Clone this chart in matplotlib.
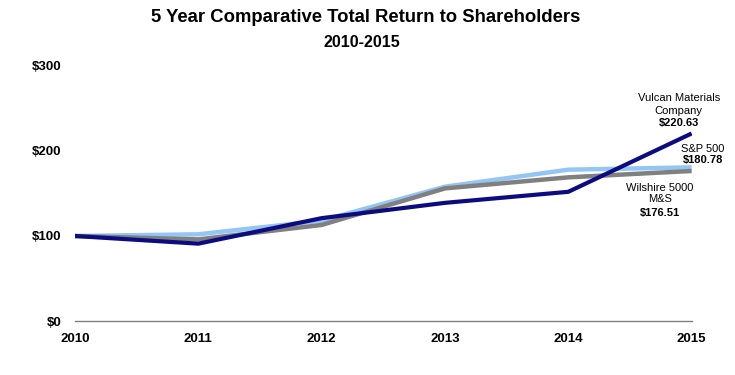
import matplotlib.pyplot as plt

plt.rcParams['font.family'] = ['Liberation Sans', 'DejaVu Sans']

years = [2010, 2011, 2012, 2013, 2014, 2015]
vulcan = [100, 91, 121, 139, 152, 220.63]
sp500 = [100, 102, 118, 158, 178, 180.78]
wilshire = [100, 96, 113, 156, 169, 176.51]
yticks = [0, 100, 200, 300]

fig = plt.figure(figsize=(7.35, 3.75), dpi=100)
ax = fig.add_axes([0.102, 0.144, 0.839, 0.680])

ax.plot(years, sp500, color='#93C6F4', lw=3.2, solid_capstyle='butt')
ax.plot(years, wilshire, color='#808080', lw=3.2, solid_capstyle='butt')
ax.plot(years, vulcan, color='#0C0C80', lw=3.0, solid_capstyle='butt')

ax.set_xlim(2010, 2015)
ax.set_ylim(0, 300)
ax.set_xticks(years)
ax.set_xticklabels([str(y) for y in years], fontweight='bold', fontsize=9.5)
ax.set_yticks(yticks)
ax.set_yticklabels(['$%d' % v for v in yticks], fontweight='bold', fontsize=9.5)
ax.tick_params(length=0)
ax.tick_params(axis='y', pad=10)
ax.tick_params(axis='x', pad=9)
for s in ['top', 'right', 'left']:
    ax.spines[s].set_visible(False)
ax.spines['bottom'].set_color('#808080')
ax.spines['bottom'].set_linewidth(1)

# end labels, one line each
labels = [
    (2014.895, 262, 'Vulcan Materials', 'normal'),
    (2014.895, 247, 'Company', 'normal'),
    (2014.895, 233, '$%.2f' % vulcan[-1], 'bold'),
    (2015.09, 202, 'S&P 500', 'normal'),
    (2015.09, 189, '$%.2f' % sp500[-1], 'bold'),
    (2014.74, 156, 'Wilshire 5000', 'normal'),
    (2014.74, 143, 'M&S', 'normal'),
    (2014.74, 127, '$%.2f' % wilshire[-1], 'bold'),
]
for x, y, t, w in labels:
    ax.text(x, y, t, ha='center', va='center', fontsize=8, fontweight=w)

fig.text(0.497, 0.952, '5 Year Comparative Total Return to Shareholders',
         ha='center', va='center', fontsize=13.3, fontweight='bold')
fig.text(0.493, 0.887, '2010-2015', ha='center', va='center',
         fontsize=11.5, fontweight='bold')

fig.savefig('out.png', dpi=100)
